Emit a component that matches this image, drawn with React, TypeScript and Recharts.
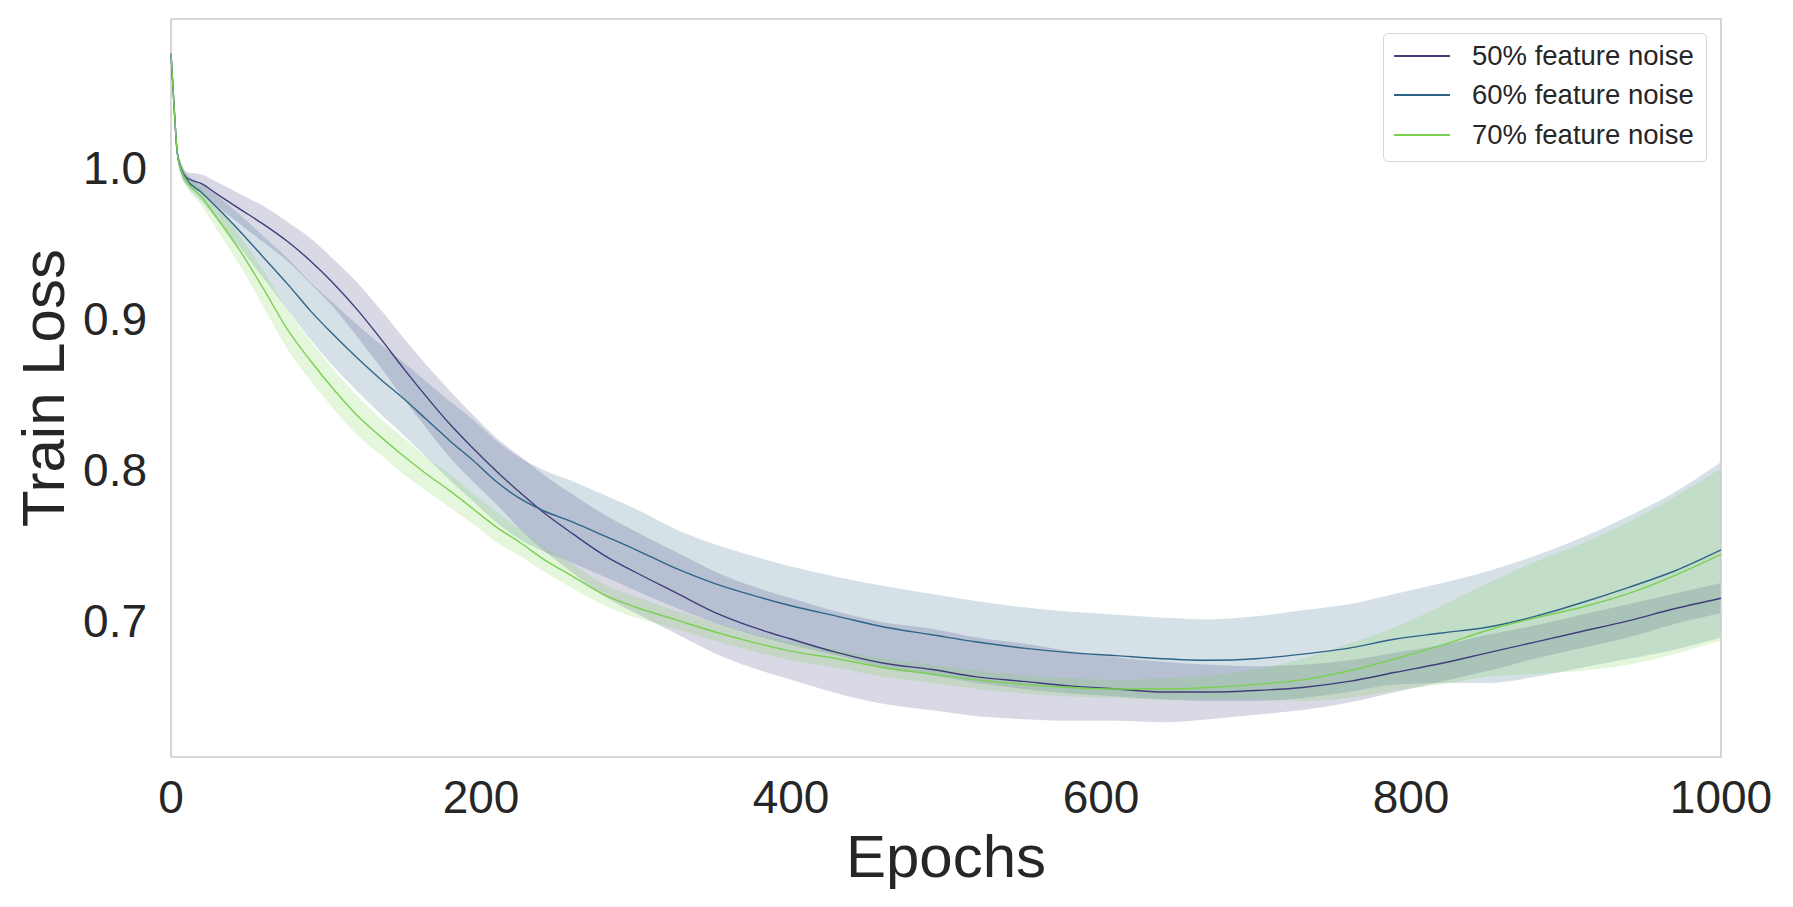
import { ComposedChart, Line, Area, XAxis, YAxis, ReferenceArea } from 'recharts';

const epochs = [0, 2, 4, 7, 10, 20, 30, 45, 60, 75, 90, 105, 120, 135, 150, 165, 180, 195, 210, 225, 240, 260, 280, 300, 325, 350, 375, 400, 430, 460, 490, 520, 550, 580, 610, 640, 670, 700, 730, 760, 790, 820, 850, 880, 910, 940, 970, 1000];

const mean50 = [1.075, 1.04, 1.01, 0.998, 0.993, 0.989, 0.982, 0.972, 0.962, 0.951, 0.938, 0.923, 0.906, 0.887, 0.867, 0.848, 0.83, 0.814, 0.799, 0.785, 0.772, 0.757, 0.743, 0.732, 0.719, 0.706, 0.696, 0.688, 0.679, 0.672, 0.668, 0.663, 0.66, 0.657, 0.655, 0.653, 0.653, 0.654, 0.656, 0.66, 0.666, 0.672, 0.679, 0.686, 0.693, 0.7, 0.708, 0.715];
const spread50 = [0.002, 0.003, 0.003, 0.004, 0.004, 0.006, 0.008, 0.01, 0.012, 0.013, 0.015, 0.016, 0.018, 0.019, 0.02, 0.021, 0.022, 0.022, 0.022, 0.024, 0.025, 0.026, 0.027, 0.027, 0.027, 0.027, 0.027, 0.027, 0.027, 0.027, 0.027, 0.026, 0.025, 0.023, 0.021, 0.02, 0.018, 0.016, 0.015, 0.014, 0.013, 0.012, 0.012, 0.011, 0.011, 0.011, 0.01, 0.01];

const mean60 = [1.075, 1.04, 1.01, 0.997, 0.992, 0.983, 0.973, 0.957, 0.94, 0.923, 0.905, 0.889, 0.874, 0.86, 0.847, 0.833, 0.819, 0.806, 0.792, 0.781, 0.773, 0.765, 0.756, 0.747, 0.735, 0.725, 0.717, 0.71, 0.703, 0.696, 0.691, 0.686, 0.682, 0.679, 0.677, 0.675, 0.674, 0.675, 0.678, 0.682, 0.688, 0.692, 0.696, 0.703, 0.712, 0.722, 0.733, 0.747];
const spread60 = [0.002, 0.003, 0.003, 0.004, 0.004, 0.006, 0.008, 0.011, 0.014, 0.017, 0.019, 0.021, 0.022, 0.023, 0.024, 0.025, 0.026, 0.027, 0.027, 0.027, 0.027, 0.027, 0.027, 0.027, 0.026, 0.026, 0.026, 0.026, 0.026, 0.027, 0.027, 0.027, 0.027, 0.027, 0.027, 0.027, 0.027, 0.028, 0.029, 0.029, 0.03, 0.033, 0.037, 0.04, 0.043, 0.047, 0.052, 0.058];

const mean70 = [1.075, 1.04, 1.01, 0.997, 0.991, 0.98, 0.966, 0.944, 0.919, 0.893, 0.872, 0.853, 0.836, 0.822, 0.809, 0.797, 0.786, 0.774, 0.762, 0.752, 0.741, 0.729, 0.717, 0.709, 0.701, 0.693, 0.686, 0.68, 0.675, 0.669, 0.665, 0.661, 0.658, 0.656, 0.655, 0.655, 0.656, 0.658, 0.661, 0.667, 0.675, 0.684, 0.694, 0.702, 0.709, 0.718, 0.73, 0.744];
const spread70 = [0.002, 0.003, 0.003, 0.004, 0.004, 0.006, 0.008, 0.01, 0.012, 0.013, 0.013, 0.013, 0.013, 0.012, 0.012, 0.011, 0.011, 0.01, 0.01, 0.009, 0.008, 0.008, 0.007, 0.007, 0.006, 0.006, 0.006, 0.006, 0.006, 0.006, 0.006, 0.006, 0.006, 0.006, 0.006, 0.007, 0.008, 0.01, 0.014, 0.018, 0.021, 0.026, 0.031, 0.037, 0.042, 0.047, 0.052, 0.057];

const xTicks = [0, 200, 400, 600, 800, 1000];
const yTicks = [0.7, 0.8, 0.9, 1.0];

const SERIES = [
  { key: '50', name: '50% feature noise', color: '#413d7b', mean: mean50, spread: spread50 },
  { key: '60', name: '60% feature noise', color: '#2f6489', mean: mean60, spread: spread60 },
  { key: '70', name: '70% feature noise', color: '#7ad151', mean: mean70, spread: spread70 },
];

const FONT = '"Liberation Sans", Arial, sans-serif';
const TEXT = '#262626';

const data = epochs.map((epoch, i) => {
  const row: any = { epoch };
  SERIES.forEach((s) => {
    row['m' + s.key] = s.mean[i];
    row['b' + s.key] = [s.mean[i] - s.spread[i], s.mean[i] + s.spread[i]];
  });
  return row;
});

const App = () => {
  return (
    <div style={{ position: 'relative', width: 1777, height: 891, fontFamily: FONT }}>
      <ComposedChart width={1777} height={891} data={data} margin={{ top: 11, right: 64, bottom: 0, left: 0 }}>
        <XAxis
          dataKey="epoch"
          type="number"
          domain={[0, 1000]}
          ticks={xTicks}
          height={142}
          axisLine={false}
          tickLine={false}
          tickSize={0}
          tickMargin={23}
          tick={{ fontSize: 46, fill: TEXT, fontFamily: FONT }}
          label={{ value: 'Epochs', position: 'insideBottom', offset: 22, style: { fontSize: 60, fill: TEXT, fontFamily: FONT } }}
        />
        <YAxis
          type="number"
          domain={[0.61, 1.098]}
          ticks={yTicks}
          allowDataOverflow
          width={163}
          axisLine={false}
          tickLine={false}
          tickSize={0}
          tickMargin={24}
          tickFormatter={(v: number) => v.toFixed(1)}
          tick={{ fontSize: 46, fill: TEXT, fontFamily: FONT }}
          label={{ value: 'Train Loss', angle: -90, position: 'insideLeft', offset: 35, style: { fontSize: 60, fill: TEXT, fontFamily: FONT, textAnchor: 'middle' } }}
        />
        {SERIES.map((s) => (
          <Area
            key={'b' + s.key}
            type="monotone"
            dataKey={'b' + s.key}
            stroke="none"
            fill={s.color}
            fillOpacity={0.2}
            dot={false}
            activeDot={false}
            isAnimationActive={false}
          />
        ))}
        {SERIES.map((s) => (
          <Line
            key={'m' + s.key}
            type="monotone"
            dataKey={'m' + s.key}
            stroke={s.color}
            strokeWidth={1.4}
            dot={false}
            activeDot={false}
            isAnimationActive={false}
          />
        ))}
        <ReferenceArea x1={0} x2={1000} y1={0.61} y2={1.098} fill="none" stroke="#cccccc" strokeWidth={1.6} ifOverflow="visible" />
      </ComposedChart>
      <div
        style={{
          position: 'absolute',
          left: 1375,
          top: 25,
          width: 324,
          height: 129,
          boxSizing: 'border-box',
          border: '1.5px solid #d6d6d6',
          borderRadius: 5,
          background: 'rgba(255,255,255,0.8)',
          paddingTop: 2,
        }}
      >
        {SERIES.map((s) => (
          <div key={s.key} style={{ display: 'flex', alignItems: 'center', height: 39.5 }}>
            <div style={{ marginLeft: 10, width: 56, height: 1.6, background: s.color }} />
            <span style={{ marginLeft: 22, fontSize: 27.5, color: TEXT, whiteSpace: 'nowrap' }}>{s.name}</span>
          </div>
        ))}
      </div>
    </div>
  );
};

export default App;
